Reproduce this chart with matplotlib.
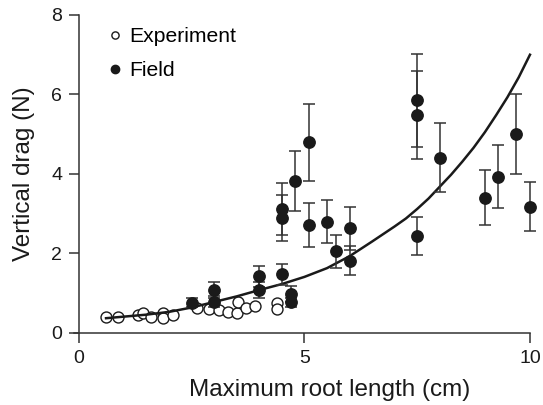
import matplotlib
matplotlib.use("Agg")
import matplotlib.pyplot as plt
from matplotlib.lines import Line2D

plt.rcParams['font.family'] = ['Liberation Sans', 'DejaVu Sans']

# Experiment (open circles)
exp_x = [0.6, 0.87, 1.3, 1.42, 1.6, 1.87, 1.87, 2.08, 2.62, 2.88, 3.1, 3.3, 3.5, 3.52, 3.7, 3.9, 4.4, 4.4]
exp_y = [0.39, 0.39, 0.45, 0.51, 0.41, 0.51, 0.37, 0.45, 0.62, 0.59, 0.58, 0.53, 0.50, 0.79, 0.63, 0.67, 0.76, 0.60]

# Field (filled circles with error bars)
field_x = [2.5, 3.0, 3.0, 4.0, 4.0, 4.5, 4.5, 4.5, 4.7, 4.7, 4.8, 5.1, 5.1, 5.5, 5.7,
           6.0, 6.0, 7.5, 7.5, 7.5, 8.0, 9.0, 9.3, 9.7, 10.0]
field_y = [0.76, 1.08, 0.79, 1.42, 1.07, 3.12, 2.90, 1.47, 0.98, 0.77, 3.83, 4.80, 2.72, 2.80, 2.05,
           2.63, 1.82, 5.86, 5.48, 2.44, 4.41, 3.40, 3.93, 5.00, 3.18]
field_err = [0.12, 0.19, 0.15, 0.27, 0.20, 0.65, 0.58, 0.27, 0.19, 0.12, 0.76, 0.97, 0.56, 0.54, 0.41,
             0.55, 0.36, 1.17, 1.10, 0.48, 0.87, 0.69, 0.79, 1.00, 0.62]

# Fitted curve, points
fit_x = [0.6, 1.0, 1.5, 2.0, 2.5, 3.0, 3.5, 4.0, 4.5, 5.0, 5.5, 6.0, 6.5, 7.0, 7.25, 7.5, 7.75,
         8.0, 8.25, 8.5, 8.75, 9.0, 9.25, 9.5, 9.75, 10.0]
fit_y = [0.37, 0.41, 0.46, 0.53, 0.64, 0.78, 0.92, 1.08, 1.23, 1.41, 1.63, 1.93, 2.30, 2.68, 2.88, 3.12, 3.38,
         3.68, 3.98, 4.31, 4.66, 5.05, 5.48, 5.93, 6.43, 7.00]

x_ticks = [0, 5, 10]
y_ticks = [0, 2, 4, 6, 8]

fig = plt.figure(figsize=(5.43, 4.05), dpi=100)
ax = fig.add_axes([0.1355, 0.178, 0.8405, 0.785])

ink = '#1a1a1a'

ax.plot(exp_x, exp_y, 'o', ms=7.9, mfc='white', mec=ink, mew=1.0, zorder=2, clip_on=False)
ax.plot(fit_x, fit_y, '-', color=ink, lw=1.8, zorder=3, clip_on=False)
ax.errorbar(field_x, field_y, yerr=field_err, fmt='o', ms=8.2, mfc=ink, mec=ink,
            ecolor='#333333', elinewidth=1.1, capsize=4.5, capthick=1.1, zorder=4, clip_on=False)

ax.set_xlim(-0.12, 10)
ax.set_ylim(0, 8)
ax.spines['left'].set_position(('data', 0))
ax.spines['left'].set_bounds(0, 8)
for s in ['top', 'right']:
    ax.spines[s].set_visible(False)
for s in ['left', 'bottom']:
    ax.spines[s].set_color('#333333')
    ax.spines[s].set_linewidth(1.1)

ax.set_xticks(x_ticks)
ax.set_yticks(y_ticks)
ax.tick_params(direction='out', length=7, width=1.1, color='#333333', labelsize=14,
               labelcolor=ink, pad=5)

ax.set_xlabel('Maximum root length (cm)', fontsize=17.5, color=ink)
ax.set_ylabel('Vertical drag (N)', fontsize=17.5, color=ink)
ax.xaxis.set_label_coords(0.56, -0.145)
ax.yaxis.set_label_coords(-0.085, 0.5)

handles = [
    Line2D([], [], ls='none', marker='o', ms=5.2, mfc='white', mec=ink, mew=1.0),
    Line2D([], [], ls='none', marker='o', ms=6.0, mfc=ink, mec=ink),
]
ax.legend(handles, ['Experiment', 'Field'], loc='upper left', bbox_to_anchor=(0.062, 0.975),
          frameon=False, fontsize=15.2, handlelength=0.8, handletextpad=0.3,
          labelspacing=0.72, borderpad=0.2, borderaxespad=0)

fig.savefig('out.png', dpi=100)
